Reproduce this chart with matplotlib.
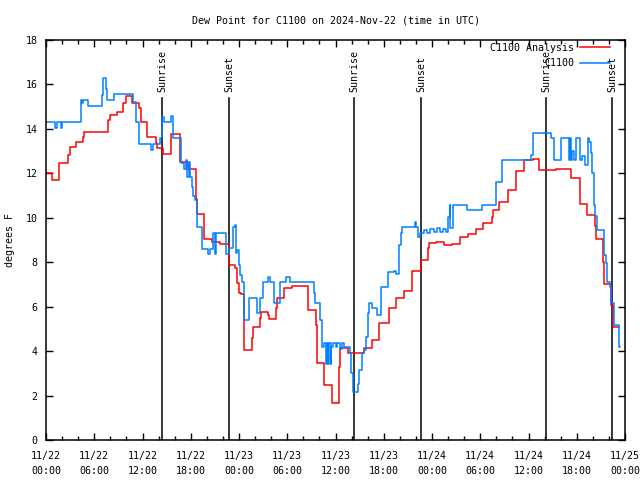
import matplotlib
matplotlib.use("Agg")
import matplotlib.pyplot as plt
from matplotlib.ticker import MultipleLocator

# hours since 2024-11-22 00:00 UTC
analysis_t = [0.0, 0.7, 1.66, 2.7, 2.95, 3.7, 4.65, 4.77, 6.7, 7.7, 7.9, 8.8, 9.63, 9.92,
              10.67, 11.6, 11.83, 12.6, 13.66, 13.8, 14.6, 15.57, 16.7, 17.6, 17.72, 18.6,
              18.77, 19.6, 20.6, 21.67, 22.8, 23.5, 23.7, 23.8, 23.95, 24.2, 24.57, 24.66,
              25.6, 25.7, 26.65, 26.75, 27.6, 27.77, 28.6, 28.72, 29.55, 30.6, 32.6, 33.6,
              33.7, 34.6, 35.6, 36.4, 36.5, 37.5, 39.5, 40.5, 41.47, 42.6, 43.5, 44.5, 45.5,
              46.6, 47.5, 47.6, 48.5, 49.5, 50.5, 51.5, 52.5, 53.5, 54.4, 55.5, 55.6, 56.3,
              57.45, 58.5, 59.5, 60.5, 61.3, 63.4, 65.3, 66.4, 67.3, 68.3, 68.4, 69.3, 69.4,
              70.2, 70.3, 70.45, 71.3]
analysis_v = [12.0, 11.7, 12.45, 12.83, 13.2, 13.43, 13.65, 13.87, 13.85, 14.4, 14.63, 14.75,
              15.15, 15.48, 15.15, 14.93, 14.3, 13.62, 13.38, 13.13, 12.87, 13.76, 12.52,
              12.42, 12.18, 10.85, 10.17, 9.05, 8.93, 8.8, 7.88, 7.73, 7.27, 7.05, 6.6, 6.55,
              5.9, 4.05, 4.58, 5.07, 5.47, 5.77, 5.62, 5.43, 5.93, 6.37, 6.82, 6.93, 5.85,
              5.18, 3.45, 2.48, 1.68, 3.3, 4.15, 3.9, 4.13, 4.5, 5.25, 5.95, 6.4, 6.72, 7.62,
              8.1, 8.63, 8.85, 8.9, 8.76, 8.8, 9.12, 9.25, 9.5, 9.75, 10.05, 10.35, 10.72,
              11.25, 12.1, 12.6, 12.65, 12.15, 12.2, 11.78, 10.62, 10.13, 9.63, 9.05, 8.03,
              7.0, 6.6, 6.07, 5.07, 5.07]

obs_t = [0.0, 1.12, 1.4, 1.83, 1.95, 4.36, 4.5, 4.65, 5.27, 7.0, 7.14, 7.4, 7.55, 8.47,
         10.87, 11.17, 11.58, 13.03, 13.28, 14.2, 14.48, 14.7, 15.5, 15.85, 16.8, 17.1,
         17.35, 17.55, 17.75, 17.95, 18.1, 18.3, 18.55, 18.77, 19.4, 20.2, 20.4, 20.75,
         21.0, 21.1, 22.4, 22.8, 23.2, 23.5, 23.65, 23.75, 23.95, 24.15, 24.37, 24.57,
         24.66, 25.28, 26.24, 26.57, 26.98, 27.56, 27.9, 28.3, 29.14, 29.85, 30.39, 33.3,
         33.5, 34.04, 34.33, 34.6, 34.8, 34.9, 35.1, 35.2, 35.4, 35.5, 35.7, 36.0, 36.2,
         36.5, 36.8, 37.1, 37.45, 37.8, 37.9, 38.2, 38.77, 38.98, 39.3, 39.5, 39.8, 40.0,
         40.14, 40.56, 41.18, 41.6, 41.68, 42.5, 43.25, 43.5, 43.87, 44.1, 44.3, 45.83,
         46.0, 46.25, 46.5, 47.0, 47.4, 47.8, 48.2, 48.6, 49.0, 49.4, 49.7, 50.0, 50.2,
         50.3, 50.6, 52.3, 54.26, 55.9, 56.66, 60.27, 60.56, 62.85, 63.18, 64.1, 65.05,
         65.17, 65.25, 65.4, 65.6, 65.88, 66.4, 66.6, 67.0, 67.4, 67.5, 67.75, 67.95,
         68.15, 68.28, 68.5, 69.4, 69.6, 69.8, 70.1, 70.3, 70.65, 71.2, 71.4]
obs_v = [14.3, 14.03, 14.3, 14.03, 14.3, 15.3, 15.15, 15.3, 15.03, 15.53, 16.28, 15.78,
         15.3, 15.56, 15.23, 14.3, 13.32, 13.05, 13.32, 13.57, 14.55, 14.3, 14.6, 13.57,
         12.45, 12.2, 12.6, 11.85, 12.5, 11.85, 11.4, 11.0, 10.8, 9.6, 8.58, 8.37, 8.58,
         9.33, 8.37, 9.33, 8.37, 8.65, 9.6, 9.67, 8.4, 8.55, 7.88, 7.43, 7.12, 5.85, 5.4,
         6.37, 5.7, 6.37, 7.1, 7.35, 7.1, 6.15, 7.1, 7.35, 7.1, 6.6, 6.15, 5.4, 4.2, 4.35,
         3.4, 4.35, 3.4, 4.35, 3.4, 4.2, 4.35, 4.2, 4.35, 4.1, 4.35, 4.2, 4.2, 3.9, 3.0,
         2.17, 2.5, 3.15, 3.9, 4.05, 4.65, 5.73, 6.15, 5.93, 5.62, 6.6, 6.87, 7.57, 7.6,
         7.45, 8.77, 9.3, 9.6, 9.82, 9.6, 9.15, 9.3, 9.45, 9.3, 9.5, 9.35, 9.55, 9.35,
         9.5, 9.35, 10.05, 10.58, 9.55, 10.58, 10.35, 10.58, 11.6, 12.6, 12.83, 13.8,
         13.57, 12.6, 13.57, 12.6, 13.57, 12.6, 13.0, 12.6, 13.57, 12.6, 12.8, 12.38,
         13.57, 13.4, 12.9, 12.0, 10.58, 10.1, 9.45, 8.33, 7.95, 7.12, 6.9, 6.15, 5.18,
         4.2, 4.2]

sun_t = [14.46, 22.79, 38.34, 46.67, 62.17, 70.42]
sun_labels = ["Sunrise", "Sunset", "Sunrise", "Sunset", "Sunrise", "Sunset"]

xtick_hours = [0, 6, 12, 18, 24, 30, 36, 42, 48, 54, 60, 66, 72]
xtick_labels = ["11/22\n00:00", "11/22\n06:00", "11/22\n12:00", "11/22\n18:00",
                "11/23\n00:00", "11/23\n06:00", "11/23\n12:00", "11/23\n18:00",
                "11/24\n00:00", "11/24\n06:00", "11/24\n12:00", "11/24\n18:00",
                "11/25\n00:00"]

plt.rcParams['font.family'] = ['DejaVu Sans Mono']
fs = 7.2

fig = plt.figure(figsize=(6.4, 4.8), dpi=100)
ax = fig.add_axes([46/640, 40/480, 579/640, 400/480])

for t, lab in zip(sun_t, sun_labels):
    ax.plot([t, t], [0, 15.4], color='black', lw=1.1)
    ax.text(t, 15.66, lab, rotation=90, ha='center', va='bottom', fontsize=fs)

ax.plot(analysis_t, analysis_v, drawstyle='steps-post', color='#ff0000', lw=1.1,
        label='C1100 Analysis')
ax.plot(obs_t, obs_v, drawstyle='steps-post', color='#0080ff', lw=1.1, label='C1100')

ax.set_xlim(0, 72)
ax.set_ylim(0, 18)
ax.set_xticks(xtick_hours)
ax.set_xticklabels(xtick_labels, fontsize=fs, linespacing=1.6)
ax.xaxis.set_minor_locator(MultipleLocator(2))
ax.yaxis.set_major_locator(MultipleLocator(2))
ax.tick_params(axis='both', which='major', direction='in', length=5, width=1,
               top=True, right=True, labelsize=fs, pad=6)
ax.tick_params(axis='x', which='major', pad=8)
ax.tick_params(axis='both', which='minor', direction='in', length=3, width=1,
               top=True, right=True)
for s in ax.spines.values():
    s.set_linewidth(1.1)

ax.set_ylabel('degrees F', fontsize=fs, labelpad=8)
ax.set_title('Dew Point for C1100 on 2024-Nov-22 (time in UTC)', fontsize=fs, pad=12)

ax.legend(loc='upper right', bbox_to_anchor=(1 - 13/579, 1 - 1/400), frameon=False,
          markerfirst=False, fontsize=fs, handlelength=3.0, handletextpad=0.6,
          labelspacing=0.55, borderaxespad=0.0, borderpad=0.2)

fig.savefig('out.png', dpi=100)
